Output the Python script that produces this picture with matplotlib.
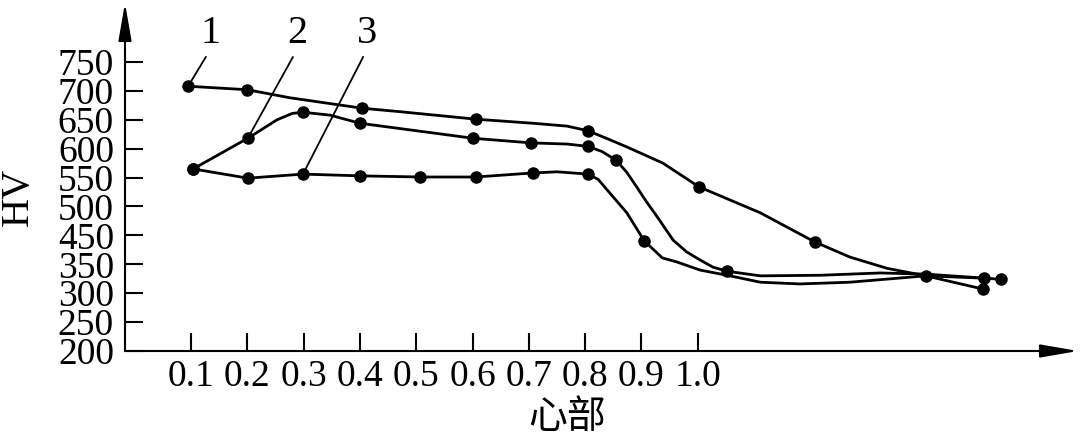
import numpy as np
import matplotlib
matplotlib.use('Agg')
import matplotlib.pyplot as plt

plt.rcParams['font.family'] = ['Liberation Serif', 'DejaVu Serif']

# ---------------- data ----------------
ytick_values = [200, 250, 300, 350, 450, 500, 550, 600, 650, 700, 750]
ytick_labels = [str(v) for v in ytick_values]
xtick_values = [0.1, 0.2, 0.3, 0.4, 0.5, 0.6, 0.7, 0.8, 0.9, 1.0]
xtick_labels = ['0.1', '0.2', '0.3', '0.4', '0.5', '0.6', '0.7', '0.8', '0.9', '1.0']
x_label = '心部'
y_label = 'HV'
curve_names = ['1', '2', '3']

# curve traces
c1_x = [0.095, 0.20, 0.276, 0.404, 0.471, 0.606, 0.707, 0.768, 0.805, 0.840,
        0.874, 0.938, 1.002, 1.111, 1.208, 1.270, 1.336, 1.405, 1.507]
c1_hv = [708, 702, 688, 670, 664, 651, 644, 639, 631, 617,
         603, 575, 534, 489, 427, 375, 343, 330, 307]

c2_x = [0.104, 0.201, 0.253, 0.280, 0.299, 0.347, 0.40, 0.601, 0.704, 0.768,
        0.805, 0.830, 0.855, 0.874, 0.892, 0.909, 0.928, 0.956, 0.980, 1.004,
        1.027, 1.052, 1.111, 1.217, 1.324, 1.405, 1.539]
c2_hv = [565, 618, 650, 661, 663, 658, 644, 618, 610, 608,
         604, 595, 580, 559, 533, 508, 482, 434, 393, 365,
         345, 338, 330, 331, 335, 333, 324]

c3_x = [0.104, 0.201, 0.299, 0.40, 0.507, 0.606, 0.707, 0.750, 0.778, 0.805,
        0.823, 0.844, 0.874, 0.905, 0.937, 0.963, 1.004, 1.052, 1.111, 1.181,
        1.270, 1.405, 1.508]
c3_hv = [565, 549, 556, 553, 551, 551, 558, 560, 558, 556,
         547, 523, 489, 431, 372, 358, 340, 331, 319, 316,
         319, 330, 326]

# measured (marked) points
p1_x = [0.095, 0.20, 0.404, 0.606, 0.805, 1.002, 1.208, 1.405, 1.507]
p1_hv = [708, 702, 670, 651, 631, 534, 427, 330, 307]
p2_x = [0.104, 0.201, 0.299, 0.40, 0.601, 0.704, 0.805, 0.855, 1.052, 1.539]
p2_hv = [565, 618, 663, 644, 618, 610, 604, 580, 338, 324]
p3_x = [0.104, 0.201, 0.299, 0.40, 0.507, 0.606, 0.707, 0.805, 0.905, 1.508]
p3_hv = [565, 549, 556, 553, 551, 551, 558, 556, 431, 326]

# ---------------- figure ----------------
fig = plt.figure(figsize=(10.8, 4.41), dpi=100)
ax = fig.add_axes([125 / 1080, 90 / 441, (1078 - 125) / 1080, (351 - 3) / 441])

tv = np.array(ytick_values, float)
pos = np.arange(len(tv), dtype=float)


def fwd(v):
    v = np.asarray(v, float)
    out = np.interp(v, tv, pos)
    out = np.where(v > tv[-1], pos[-1] + (v - tv[-1]) / 50.0, out)
    out = np.where(v < tv[0], (v - tv[0]) / 50.0, out)
    return out


def inv(p):
    p = np.asarray(p, float)
    out = np.interp(p, pos, tv)
    out = np.where(p > pos[-1], tv[-1] + (p - pos[-1]) * 50.0, out)
    out = np.where(p < pos[0], tv[0] + p * 50.0, out)
    return out


ax.set_yscale('function', functions=(fwd, inv))
ax.set_xlim(-0.017, 1.675)
ax.set_ylim(200, 852)

for cx, cy, px, py in [(c1_x, c1_hv, p1_x, p1_hv),
                       (c2_x, c2_hv, p2_x, p2_hv),
                       (c3_x, c3_hv, p3_x, p3_hv)]:
    ax.plot(cx, cy, color='black', lw=2.0, solid_joinstyle='round', zorder=2)
    ax.plot(px, py, 'o', color='black', ms=8, zorder=3, clip_on=False)

for s in ax.spines.values():
    s.set_visible(False)

arrow_kw = dict(arrowstyle='-|>,head_length=1.15,head_width=0.2', lw=1.5,
                color='black', mutation_scale=20, shrinkA=0, shrinkB=0)
ax.annotate('', xy=(0, 1), xytext=(0, 0), xycoords='axes fraction',
            arrowprops=arrow_kw, annotation_clip=False)
ax.annotate('', xy=(1, 0), xytext=(0, 0), xycoords='axes fraction',
            arrowprops=arrow_kw, annotation_clip=False)

ax.set_yticks(ytick_values)
ax.set_yticklabels(ytick_labels)
ax.set_xticks(xtick_values)
ax.set_xticklabels(xtick_labels)
ax.yaxis.set_minor_locator(matplotlib.ticker.NullLocator())
ax.tick_params(axis='both', direction='in', length=13, width=1.5,
               labelsize=27, colors='black')
ax.tick_params(axis='y', pad=8)
ax.tick_params(axis='x', pad=6)

# curve labels with leader lines
label_offsets = [(15.8, 38.2), (35.3, 75.6), (46.0, 101.5)]
anchors = [(p1_x[0], p1_hv[0]), (p2_x[1], p2_hv[1]), (p3_x[2], p3_hv[2])]
for name, (ox, oy), (axx, ayy) in zip(curve_names, label_offsets, anchors):
    ax.annotate(name, xy=(axx, ayy), xytext=(ox, oy), textcoords='offset points',
                ha='center', va='center', fontsize=29,
                arrowprops=dict(arrowstyle='-', lw=1.3, color='black',
                                shrinkA=2, shrinkB=4, relpos=(0.45, 0)),
                annotation_clip=False)

fig.text(567 / 1080, 1 - 417 / 441, x_label, fontsize=28,
         family=['Noto Sans CJK SC', 'DejaVu Sans'], ha='center', va='center')
fig.text(18 / 1080, 1 - 197 / 441, y_label, rotation=90, fontsize=29,
         ha='center', va='center')

fig.savefig('out.png', dpi=100)
